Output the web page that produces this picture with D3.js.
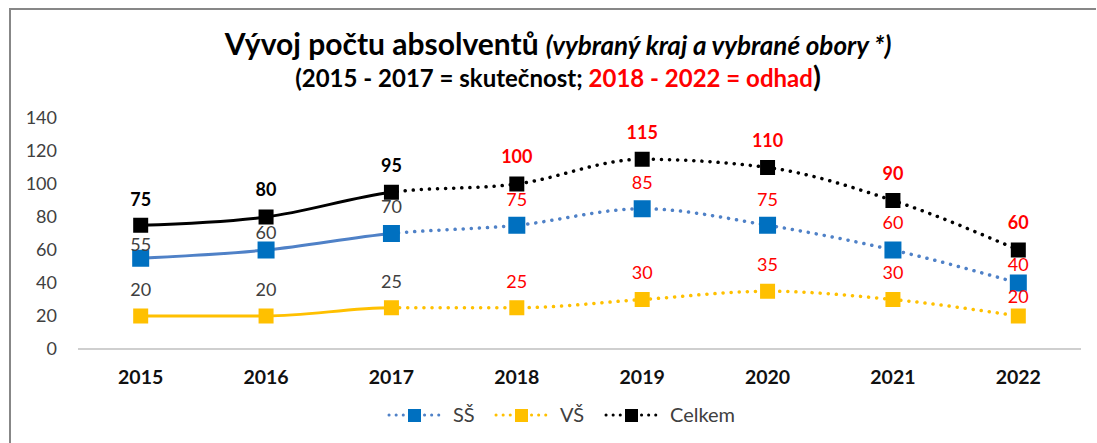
<!DOCTYPE html>
<html>
<head>
<meta charset="utf-8">
<script src="https://cdn.jsdelivr.net/npm/d3@7"></script>
<style>
  body { margin: 0; background: #fff; }
  text { font-family: Lato, "Open Sans", sans-serif; }
</style>
</head>
<body>
<div id="chart"></div>
<script>
// data
const years = ["2015", "2016", "2017", "2018", "2019", "2020", "2021", "2022"];
const ss = [55, 60, 70, 75, 85, 75, 60, 40];
const vs = [20, 20, 25, 25, 30, 35, 30, 20];
const celkem = [75, 80, 95, 100, 115, 110, 90, 60];
const yTicks = [0, 20, 40, 60, 80, 100, 120, 140];
const lastActual = "2017";

// label nudges (px above marker)
const ssLift = [14, 17, 27, 26, 26, 26, 27, 18];
const vsLift = [26, 26, 26, 26, 27, 27, 27, 19];
const celkemLift = [26, 27, 27, 27, 27, 27, 27, 27];

const width = 1097;
const height = 443;
const margin = {top: 118, left: 78, right: 16, bottom: 94};

const svg = d3.select("#chart")
    .append("svg")
    .attr("width", width)
    .attr("height", height);

// frame (only top and left edge visible)
svg.append("path")
    .attr("d", "M10,443 V9 H1096")
    .attr("fill", "none")
    .attr("stroke", "#878787")
    .attr("stroke-width", 2);

const xScale = d3.scaleBand()
    .domain(years)
    .range([margin.left, width - margin.right]);

const yScale = d3.scaleLinear()
    .domain([0, 140])
    .range([height - margin.bottom, margin.top]);

const cx = function(d) { return xScale(d) + xScale.bandwidth() / 2; };

// y axis labels
svg.selectAll(".ytick")
    .data(yTicks)
    .enter()
    .append("text")
        .attr("class", "ytick")
        .attr("x", 57)
        .attr("y", function(d) { return yScale(d); })
        .attr("dy", "0.35em")
        .style("text-anchor", "end")
        .style("font-size", "18px")
        .style("fill", "#404040")
        .text(function(d) { return d; });

// x axis line
svg.append("line")
    .attr("x1", margin.left)
    .attr("x2", width - margin.right)
    .attr("y1", yScale(0))
    .attr("y2", yScale(0))
    .attr("stroke", "#bfbfbf")
    .attr("stroke-width", 1.3);

svg.selectAll(".xtick")
    .data(years)
    .enter()
    .append("text")
        .attr("class", "xtick")
        .attr("x", function(d) { return cx(d); })
        .attr("y", yScale(0) + 35)
        .style("text-anchor", "middle")
        .style("font-size", "19.5px")
        .style("font-weight", "bold")
        .style("fill", "#111")
        .text(function(d) { return d; });

// clip regions: solid up to last actual year, dotted after
const splitX = cx(lastActual);
const defs = svg.append("defs");
defs.append("clipPath").attr("id", "clip-actual")
    .append("rect")
    .attr("x", 0).attr("y", 0).attr("width", splitX).attr("height", height);
defs.append("clipPath").attr("id", "clip-forecast")
    .append("rect")
    .attr("x", splitX).attr("y", 0).attr("width", width - splitX).attr("height", height);

const series = [
    {name: "SŠ", values: ss, lift: ssLift, line: "#4f81c7", marker: "#0070c0", size: 17, bold: false, actualLabel: "#404040"},
    {name: "VŠ", values: vs, lift: vsLift, line: "#ffc000", marker: "#ffc000", size: 15, bold: false, actualLabel: "#404040"},
    {name: "Celkem", values: celkem, lift: celkemLift, line: "#000000", marker: "#000000", size: 15, bold: true, actualLabel: "#000000"}
];

const lineGen = d3.line()
    .x(function(d) { return cx(d.year); })
    .y(function(d) { return yScale(d.value); })
    .curve(d3.curveMonotoneX);

series.forEach(function(s) {
    const pts = years.map(function(y, i) {
        return {year: y, value: s.values[i], lift: s.lift[i]};
    });

    svg.append("path")
        .datum(pts)
        .attr("clip-path", "url(#clip-actual)")
        .attr("d", lineGen)
        .attr("fill", "none")
        .attr("stroke", s.line)
        .attr("stroke-width", 3);

    svg.append("path")
        .datum(pts)
        .attr("clip-path", "url(#clip-forecast)")
        .attr("d", lineGen)
        .attr("fill", "none")
        .attr("stroke", s.line)
        .attr("stroke-width", 3.5)
        .attr("stroke-linecap", "round")
        .attr("stroke-dasharray", "0.1 8");

    svg.selectAll(null)
        .data(pts)
        .enter()
        .append("rect")
            .attr("x", function(d) { return cx(d.year) - s.size / 2; })
            .attr("y", function(d) { return yScale(d.value) - s.size / 2; })
            .attr("width", s.size)
            .attr("height", s.size)
            .attr("fill", s.marker);

    s.pts = pts;
});

// data labels on top of everything
series.forEach(function(s) {
    svg.selectAll(null)
        .data(s.pts)
        .enter()
        .append("text")
            .attr("x", function(d) { return cx(d.year); })
            .attr("y", function(d) { return yScale(d.value) - d.lift; })
            .attr("dy", "0.35em")
            .style("text-anchor", "middle")
            .style("font-size", "18px")
            .style("font-weight", s.bold ? "bold" : "normal")
            .style("fill", function(d) { return +d.year > +lastActual ? "#ff0000" : s.actualLabel; })
            .text(function(d) { return d.value; });
});

// title
const t1 = svg.append("text")
    .attr("x", 558)
    .attr("y", 55)
    .style("text-anchor", "middle")
    .style("fill", "#000");
t1.append("tspan")
    .style("font-size", "30px")
    .style("font-weight", "bold")
    .text("Vývoj počtu absolventů ");
t1.append("tspan")
    .style("font-size", "26px")
    .style("font-weight", "bold")
    .style("font-style", "italic")
    .text("(vybraný kraj a vybrané obory *)");

const t2 = svg.append("text")
    .attr("x", 558)
    .attr("y", 87)
    .style("text-anchor", "middle")
    .style("font-size", "24px")
    .style("font-weight", "bold")
    .style("fill", "#000");
t2.append("tspan").text("(2015 - 2017 = skutečnost; ");
t2.append("tspan").style("fill", "#ff0000").text("2018 - 2022 = odhad");
t2.append("tspan").style("font-size", "29px").text(")");

// legend
const legendX = [387, 494, 604];
const legend = svg.selectAll(".legend")
    .data(series)
    .enter()
    .append("g")
        .attr("class", "legend")
        .attr("transform", function(d, i) { return `translate(${legendX[i]},415)`; });

legend.append("line")
    .attr("x1", 2).attr("x2", 56)
    .attr("y1", 0).attr("y2", 0)
    .attr("stroke", function(d) { return d.line; })
    .attr("stroke-width", 3)
    .attr("stroke-linecap", "round")
    .attr("stroke-dasharray", "0.1 7");

legend.append("rect")
    .attr("x", 21).attr("y", -6)
    .attr("width", 13).attr("height", 13)
    .attr("fill", function(d) { return d.marker; });

legend.append("text")
    .attr("x", 66)
    .attr("y", 0)
    .attr("dy", "0.35em")
    .style("font-size", "20px")
    .style("fill", "#404040")
    .text(function(d) { return d.name; });
</script>
</body>
</html>
